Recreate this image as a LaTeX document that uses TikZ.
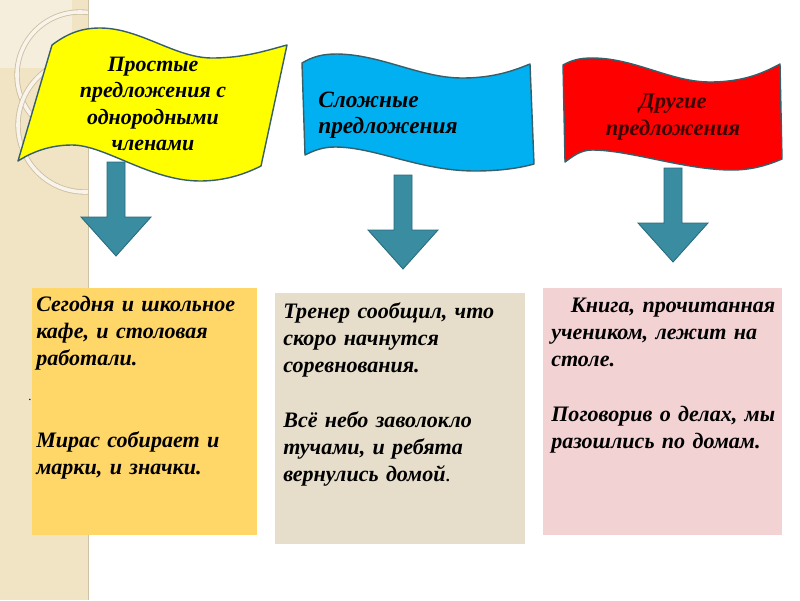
\documentclass[tikz,border=0pt]{standalone}
\usepackage{fontspec}
\setmainfont{Liberation Serif}
\usetikzlibrary{positioning}
\definecolor{stripbg}{RGB}{241,228,197}
\definecolor{stripcorner}{RGB}{246,238,221}
\definecolor{ringedge}{RGB}{205,190,160}
\definecolor{ringfill}{RGB}{248,244,235}
\definecolor{flagedge}{RGB}{55,95,105}
\definecolor{flagyellow}{RGB}{255,255,0}
\definecolor{flagblue}{RGB}{0,176,240}
\definecolor{flagred}{RGB}{255,0,0}
\definecolor{redtext}{RGB}{60,5,5}
\definecolor{arrowfill}{RGB}{58,140,160}
\definecolor{arrowedge}{RGB}{40,105,125}
\definecolor{boxgold}{RGB}{255,214,104}
\definecolor{boxtan}{RGB}{230,221,203}
\definecolor{boxpink}{RGB}{243,210,211}

\begin{document}
\begin{tikzpicture}[x=0.025cm, y=-0.025cm,
  flagline/.style={draw=flagedge, line width=1pt, line join=round},
  flagtext/.style={font=\fontsize{16}{18.6}\selectfont\bfseries\itshape, inner sep=0pt},
  boxtext/.style={font=\fontsize{15.7}{19.3}\selectfont\bfseries\itshape,
    text width=6.2cm, align=left, inner sep=0pt, anchor=base west},
  ring/.style={draw=ringedge, double=ringfill, double distance=0.09cm, line width=0.6pt},
  downarrow/.pic={
    \draw[fill=arrowfill, draw=arrowedge, line width=0.6pt]
      (-9,0) -- (9,0) -- (9,55) -- (35,55) -- (0,94) -- (-35,55) -- (-9,55) -- cycle;}]
  \useasboundingbox (0,0) rectangle (800,600);
  \fill[white] (0,0) rectangle (800,600);

  % left strip with rings
  \fill[stripbg] (0,0) rectangle (88,600);
  \fill[stripcorner] (0,0) rectangle (72,68);
  \begin{scope}
    \clip (0,0) rectangle (88,600);
    \draw[ring] (80,75) circle[radius=63];
    \draw[ring] (85,125) circle[radius=67];
  \end{scope}
  \draw[stripbg!85!black, line width=0.4pt] (88,0) -- (88,600);

  % flags
  \draw[flagline, fill=flagyellow] (52,45) .. controls (68,33) and (82,28) .. (100,28)
    .. controls (140,28) and (175,58) .. (212,58) .. controls (245,58) and (268,50) .. (287,45)
    -- (261,166) .. controls (245,174) and (225,181) .. (200,181)
    .. controls (150,181) and (105,145) .. (72,145) .. controls (50,145) and (32,152) .. (18,161) -- cycle;
  \draw[flagline, fill=flagblue] (302,63) .. controls (312,57) and (322,54) .. (336,54)
    .. controls (380,54) and (420,78) .. (462,78) .. controls (495,78) and (515,70) .. (530,64)
    -- (534,164) .. controls (520,168) and (500,171) .. (475,171)
    .. controls (420,171) and (375,147) .. (335,147) .. controls (322,147) and (313,151) .. (305,155) -- cycle;
  \draw[flagline, fill=flagred] (563,65) .. controls (572,60) and (580,58) .. (592,58)
    .. controls (635,58) and (670,82) .. (710,82) .. controls (745,82) and (765,72) .. (780,64)
    -- (782,159) .. controls (768,165) and (752,170) .. (732,170)
    .. controls (685,170) and (630,150) .. (592,150) .. controls (580,150) and (572,157) .. (565,162) -- cycle;

  \node[flagtext, align=center, font=\fontsize{15.6}{18.6}\selectfont\bfseries\itshape] (simple) at (153,104)
    {Простые\\предложения с\\однородными\\членами};
  \node[flagtext, align=left, anchor=west, font=\fontsize{16.6}{18.6}\selectfont\bfseries\itshape] (complex) at (318,115)
    {Сложные\\предложения};
  \node[flagtext, align=center, text=redtext] (other) at (673,117) {Другие\\предложения};

  % arrows
  \pic at (116,162) {downarrow};
  \pic at (403,175) {downarrow};
  \pic at (673,168) {downarrow};

  % example boxes
  \fill[boxgold] (32,288) rectangle (257,535);
  \fill[boxtan] (275,293) rectangle (525,544);
  \fill[boxpink] (543,288) rectangle (782,535);

  \node[boxtext] (ex1) at (36,311) {Сегодня и школьное\\кафе, и столовая\\работали.\\[39pt]Мирас собирает и\\марки, и значки.};
  \node[font=\small] (dot) at (30,400) {.};
  \node[boxtext] (ex2) at (283,318) {Тренер сообщил, что\\скоро начнутся\\соревнования.\\[20pt]Всё небо заволокло\\тучами, и ребята\\вернулись домой\textmd{.}};
  \node[boxtext] (ex3) at (551,312) {\hspace*{14pt}Книга, прочитанная\\учеником, лежит на\\столе.\\[20pt]Поговорив о делах, мы\\разошлись по домам.};
\end{tikzpicture}
\end{document}
